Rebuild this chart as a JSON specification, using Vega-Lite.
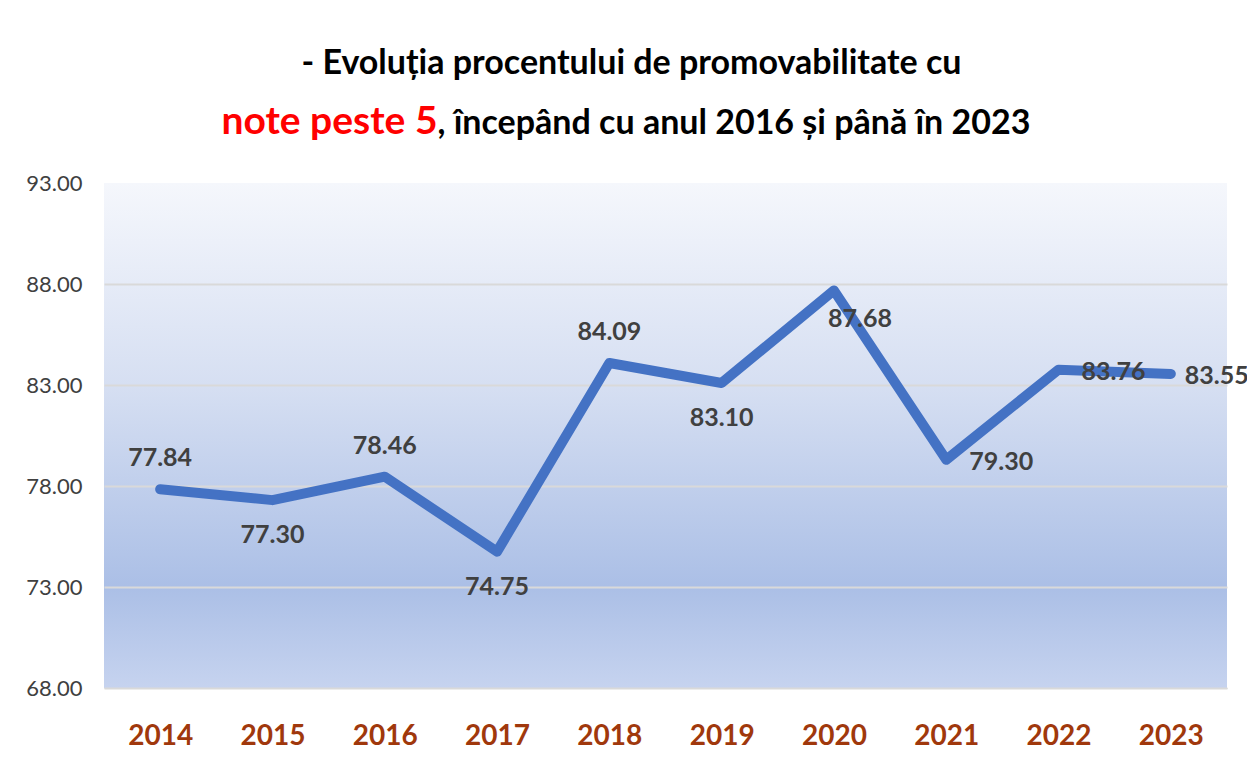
{
  "$schema": "https://vega.github.io/schema/vega-lite/v6.json",
  "background": "white",
  "padding": {"left": 25, "top": 0, "right": 0, "bottom": 0},
  "spacing": 0,
  "config": {
    "font": "Lato",
    "view": {"stroke": null}
  },
  "datasets": {
    "scores": [
      {"an": "2014", "procent": 77.84},
      {"an": "2015", "procent": 77.30},
      {"an": "2016", "procent": 78.46},
      {"an": "2017", "procent": 74.75},
      {"an": "2018", "procent": 84.09},
      {"an": "2019", "procent": 83.10},
      {"an": "2020", "procent": 87.68},
      {"an": "2021", "procent": 79.30},
      {"an": "2022", "procent": 83.76},
      {"an": "2023", "procent": 83.55}
    ],
    "titlu": [
      {"rand": 1, "text": "- Evoluția procentului de promovabilitate cu"},
      {"rand": 2, "text": "note peste 5"},
      {"rand": 3, "text": ", începând cu anul 2016 și până în 2023"}
    ]
  },
  "vconcat": [
    {
      "width": 1123,
      "height": 172,
      "data": {"name": "titlu"},
      "layer": [
        {
          "transform": [{"filter": "datum.rand === 1"}],
          "mark": {"type": "text", "fontWeight": "bold", "fontSize": 34, "color": "#000000", "align": "center", "baseline": "alphabetic", "dx": -34, "dy": -12},
          "encoding": {"text": {"field": "text"}}
        },
        {
          "transform": [{"filter": "datum.rand === 2"}],
          "mark": {"type": "text", "fontWeight": "bold", "fontSize": 39, "color": "#ff0000", "align": "right", "baseline": "alphabetic", "dx": -228, "dy": 48},
          "encoding": {"text": {"field": "text"}}
        },
        {
          "transform": [{"filter": "datum.rand === 3"}],
          "mark": {"type": "text", "fontWeight": "bold", "fontSize": 34, "color": "#000000", "align": "left", "baseline": "alphabetic", "dx": -228, "dy": 48},
          "encoding": {"text": {"field": "text"}}
        }
      ]
    },
    {
      "width": 1123,
      "height": 505,
      "data": {"name": "scores"},
      "view": {
        "stroke": null,
        "fill": {
          "gradient": "linear",
          "x1": 0, "y1": 0, "x2": 0, "y2": 1,
          "stops": [
            {"offset": 0, "color": "#f5f7fc"},
            {"offset": 0.4, "color": "#d6dff2"},
            {"offset": 0.8, "color": "#abbfe6"},
            {"offset": 1, "color": "#c6d3ef"}
          ]
        }
      },
      "encoding": {
        "x": {
          "field": "an",
          "type": "ordinal",
          "scale": {"type": "point", "padding": 0.5},
          "axis": {
            "title": null,
            "labelAngle": 0,
            "ticks": false,
            "domain": true,
            "domainColor": "#d9d9d9",
            "domainWidth": 1,
            "labelFontSize": 28,
            "labelFontWeight": "bold",
            "labelColor": "#a0380c",
            "labelPadding": 34
          }
        },
        "y": {
          "field": "procent",
          "type": "quantitative",
          "scale": {"domain": [68, 93], "nice": false, "zero": false},
          "axis": {
            "title": null,
            "values": [68, 73, 78, 83, 88, 93],
            "format": ".2f",
            "domain": false,
            "ticks": false,
            "labelFontSize": 22,
            "labelColor": "#404040",
            "labelPadding": 22,
            "grid": true,
            "gridWidth": 2,
            "gridColor": {"condition": {"test": "datum.value === 93", "value": "transparent"}, "value": "#d9d9d9"}
          }
        }
      },
      "layer": [
        {
          "mark": {"type": "line", "color": "#4472c4", "strokeWidth": 10, "strokeCap": "round", "strokeJoin": "round"}
        },
        {
          "transform": [{"filter": {"field": "an", "oneOf": ["2014", "2016", "2018"]}}],
          "mark": {"type": "text", "fontWeight": "bold", "fontSize": 25, "color": "#404040", "baseline": "middle", "dy": -31},
          "encoding": {"text": {"field": "procent", "type": "quantitative", "format": ".2f"}}
        },
        {
          "transform": [{"filter": {"field": "an", "oneOf": ["2015", "2017", "2019"]}}],
          "mark": {"type": "text", "fontWeight": "bold", "fontSize": 25, "color": "#404040", "baseline": "middle", "dy": 35},
          "encoding": {"text": {"field": "procent", "type": "quantitative", "format": ".2f"}}
        },
        {
          "transform": [{"filter": {"field": "an", "oneOf": ["2020"]}}],
          "mark": {"type": "text", "fontWeight": "bold", "fontSize": 25, "color": "#404040", "baseline": "middle", "dx": 26, "dy": 29},
          "encoding": {"text": {"field": "procent", "type": "quantitative", "format": ".2f"}}
        },
        {
          "transform": [{"filter": {"field": "an", "oneOf": ["2021", "2022"]}}],
          "mark": {"type": "text", "fontWeight": "bold", "fontSize": 25, "color": "#404040", "baseline": "middle", "align": "left", "dx": 23, "dy": 2},
          "encoding": {"text": {"field": "procent", "type": "quantitative", "format": ".2f"}}
        },
        {
          "transform": [{"filter": {"field": "an", "oneOf": ["2023"]}}],
          "mark": {"type": "text", "fontWeight": "bold", "fontSize": 25, "color": "#404040", "baseline": "middle", "align": "left", "dx": 14, "dy": 2},
          "encoding": {"text": {"field": "procent", "type": "quantitative", "format": ".2f"}}
        }
      ]
    }
  ]
}
